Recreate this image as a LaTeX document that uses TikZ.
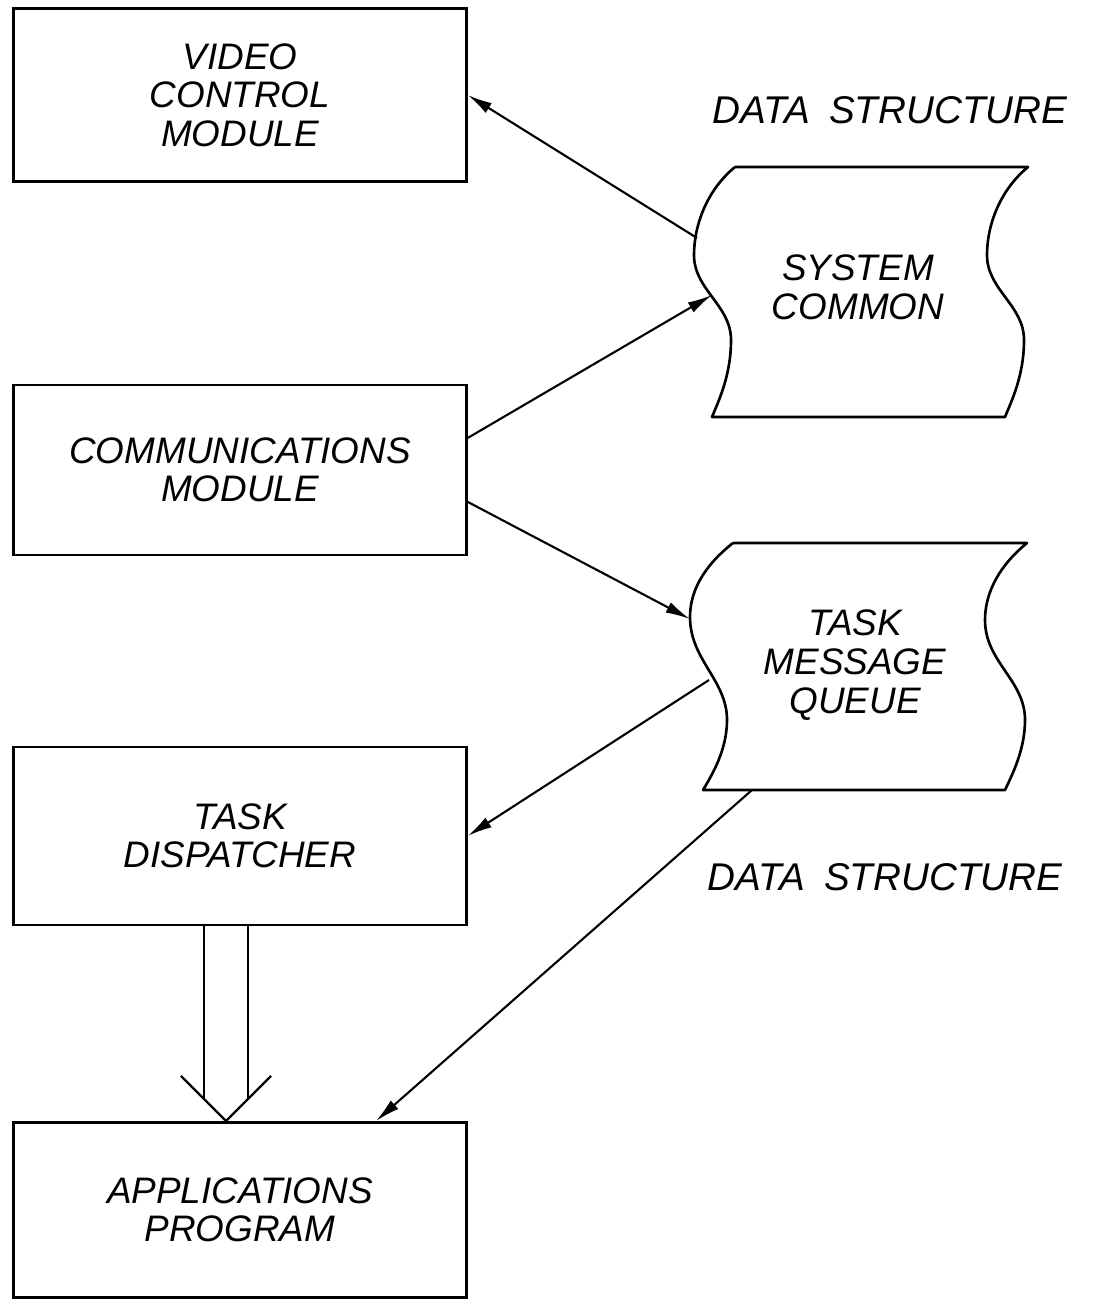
\documentclass[tikz,border=0pt]{standalone}
\usepackage{fontspec}
\setmainfont{Liberation Sans}
\usetikzlibrary{arrows,arrows.meta,positioning,calc}
\tikzstyle{modbox} = [rectangle, draw, line width=1.5pt, minimum width=9.06cm, minimum height=3.46cm, align=center, font=\fontsize{21}{22}\selectfont\itshape]
\tikzstyle{tapetext} = [align=center, font=\fontsize{21}{22}\selectfont\itshape]
\tikzstyle{dslabel} = [font=\fontsize{22}{24}\selectfont\itshape]
\tikzstyle{tapeline} = [draw, line width=1.5pt, line join=round]
\tikzstyle{link} = [line width=1.2pt, -{Latex[length=14pt,width=6.5pt]}]

\begin{document}
\begin{tikzpicture}[x=0.02cm, y=-0.02cm]
        \useasboundingbox (0,0) rectangle (1096,1300);

        % left column
        \node[modbox] (vcm) at (240,95) {VIDEO\\CONTROL\\MODULE};
        \node[modbox, below of=vcm, node distance=7.5cm, minimum height=3.4cm] (cmm) {COMMUNICATIONS\\MODULE};
        \node[modbox, below of=cmm, node distance=7.32cm, minimum height=3.56cm] (tdp) {TASK\\DISPATCHER};
        \node[modbox, below of=tdp, node distance=7.48cm, minimum height=3.5cm] (apg) {APPLICATIONS\\PROGRAM};

        % data structures
        \node[dslabel] (ds1) at (890,110) {DATA\enspace STRUCTURE};
        \node[dslabel] (ds2) at (885,877) {DATA\enspace STRUCTURE};

        \draw[tapeline] (735,167) -- (1028,167)
            .. controls (1000,190) and (987,225) .. (987,255)
            .. controls (987,290) and (1024,305) .. (1024,340)
            .. controls (1024,375) and (1012,400) .. (1005,417)
            -- (712,417)
            .. controls (719,400) and (731,375) .. (731,340)
            .. controls (731,305) and (694,290) .. (694,255)
            .. controls (694,225) and (707,190) .. (735,167);
        \node[tapetext] (scm) at (858,287) {SYSTEM\\COMMON};

        \draw[tapeline] (733,543) -- (1027,543)
            .. controls (1000,565) and (985,592) .. (985,620)
            .. controls (985,662) and (1025,680) .. (1025,720)
            .. controls (1025,750) and (1012,775) .. (1005,790)
            -- (703,790)
            .. controls (712,775) and (727,750) .. (727,720)
            .. controls (727,680) and (690,660) .. (690,617)
            .. controls (690,590) and (705,565) .. (733,543);
        \node[tapetext] (tmq) at (855,665) {TASK\\MESSAGE\\QUEUE};

        \coordinate (sc-a) at (697,238);
        \coordinate (sc-b) at (712,295);
        \coordinate (tq-a) at (690,619);
        \coordinate (tq-b) at (709,680);
        \coordinate (tq-c) at (752,790);

        % connectors
        \draw[link] (sc-a) -- (vcm.east);
        \draw[link] ($(cmm.east)+(0,-32)$) -- (sc-b);
        \draw[link] ($(cmm.east)+(0,32)$) -- (tq-a);
        \draw[link] (tq-b) -- (tdp.east);
        \draw[link] (tq-c) -- ($(apg.north)+(136,0)$);

        % hollow arrow
        \coordinate (ht) at ($(apg.north)+(-14,0)$);
        \coordinate (hl) at ($(ht)+(-22,-22)$);
        \coordinate (hr) at ($(ht)+(22,-22)$);
        \draw[line width=1.3pt] (hl) -- (hl |- tdp.south);
        \draw[line width=1.3pt] (hr) -- (hr |- tdp.south);
        \draw[line width=1.3pt, line join=round] ($(ht)+(-45,-45)$) -- (ht) -- ($(ht)+(45,-45)$);
    \end{tikzpicture}
\end{document}
